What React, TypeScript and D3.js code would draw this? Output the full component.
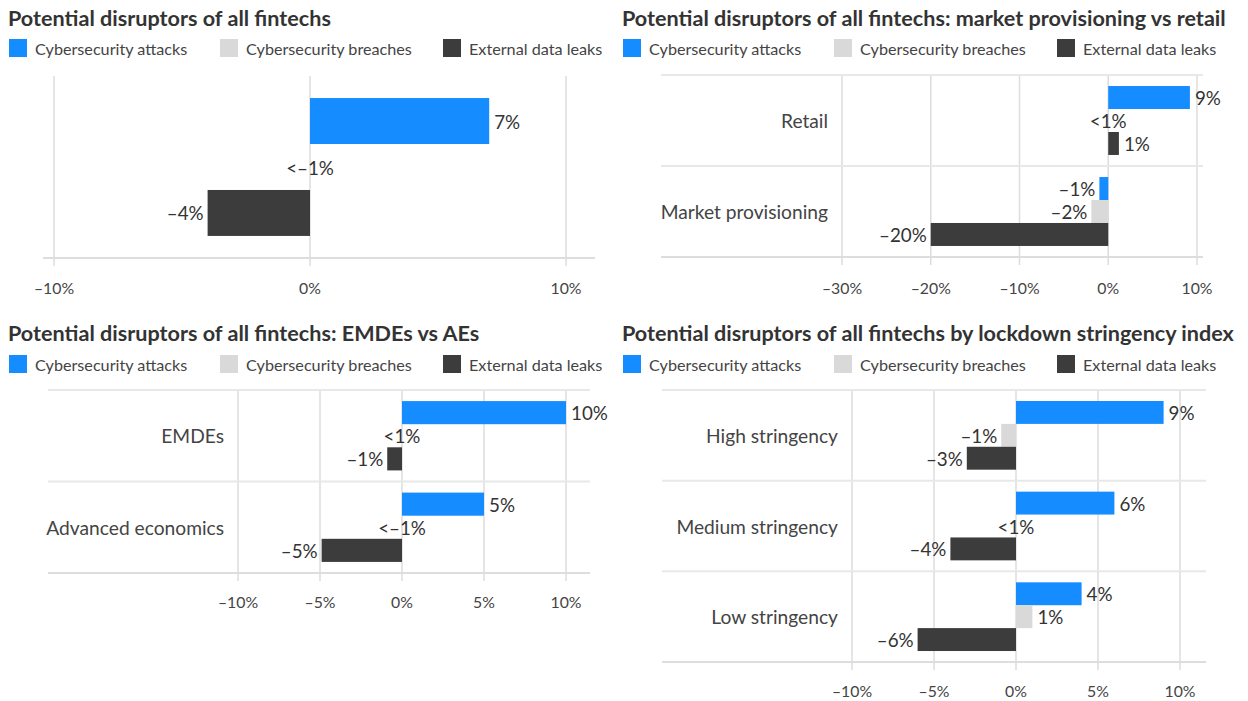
import React from "react";
import * as d3 from "d3";

// ---------- data ----------
const seriesNames = ["Cybersecurity attacks", "Cybersecurity breaches", "External data leaks"];
const seriesColors = ["#158cff", "#d9d9d9", "#3c3c3c"];

// Panel 1: all fintechs
const title1 = "Potential disruptors of all fintechs";
const categories1 = [""];
const attacks1 = [7];
const breaches1 = [0];
const leaks1 = [-4];
const attacksLabels1 = ["7%"];
const breachesLabels1 = ["<–1%"];
const leaksLabels1 = ["–4%"];
const ticks1 = [-10, 0, 10];

// Panel 2: market provisioning vs retail
const title2 = "Potential disruptors of all fintechs: market provisioning vs retail";
const categories2 = ["Retail", "Market provisioning"];
const attacks2 = [9.2, -1];
const breaches2 = [0, -1.9];
const leaks2 = [1.2, -20];
const attacksLabels2 = ["9%", "–1%"];
const breachesLabels2 = ["<1%", "–2%"];
const leaksLabels2 = ["1%", "–20%"];
const ticks2 = [-30, -20, -10, 0, 10];

// Panel 3: EMDEs vs AEs
const title3 = "Potential disruptors of all fintechs: EMDEs vs AEs";
const categories3 = ["EMDEs", "Advanced economics"];
const attacks3 = [10, 5];
const breaches3 = [0, 0];
const leaks3 = [-0.9, -4.9];
const attacksLabels3 = ["10%", "5%"];
const breachesLabels3 = ["<1%", "<–1%"];
const leaksLabels3 = ["–1%", "–5%"];
const ticks3 = [-10, -5, 0, 5, 10];

// Panel 4: lockdown stringency
const title4 = "Potential disruptors of all fintechs by lockdown stringency index";
const categories4 = ["High stringency", "Medium stringency", "Low stringency"];
const attacks4 = [9, 6, 4];
const breaches4 = [-0.9, 0, 1];
const leaks4 = [-3, -4, -6];
const attacksLabels4 = ["9%", "6%", "4%"];
const breachesLabels4 = ["–1%", "<1%", "1%"];
const leaksLabels4 = ["–3%", "–4%", "–6%"];
const ticks4 = [-10, -5, 0, 5, 10];

const tickFormat = (v: number) => (v < 0 ? "–" + Math.abs(v) : String(v)) + "%";

// ---------- layout ----------
const FONT = "Lato, 'Noto Sans', sans-serif";
const TEXT = "#333";
const GRID = "#dcdcdc";
const LEGEND_OFFSETS = [0, 211, 434];

type Panel = {
  title: string;
  categories: string[];
  values: number[][];
  labels: string[][];
  ticks: number[];
  domain: [number, number];
  x: number;
  titleY: number;
  legendY: number;
  top: number;
  bottom: number;
  lineX0: number;
  lineX1: number;
  xRange: [number, number];
  tickY: number;
  catX: number | null;
  topLine: boolean;
};

const panels: Panel[] = [
  {
    title: title1, categories: categories1,
    values: [attacks1, breaches1, leaks1], labels: [attacksLabels1, breachesLabels1, leaksLabels1],
    ticks: ticks1, domain: [-10, 10],
    x: 9, titleY: 26, legendY: 48,
    top: 76, bottom: 258, lineX0: 43, lineX1: 595, xRange: [54, 566], tickY: 287, catX: null, topLine: false,
  },
  {
    title: title2, categories: categories2,
    values: [attacks2, breaches2, leaks2], labels: [attacksLabels2, breachesLabels2, leaksLabels2],
    ticks: ticks2, domain: [-30, 10],
    x: 623, titleY: 26, legendY: 48,
    top: 75, bottom: 257, lineX0: 661, lineX1: 1203, xRange: [842, 1197], tickY: 287, catX: 828, topLine: true,
  },
  {
    title: title3, categories: categories3,
    values: [attacks3, breaches3, leaks3], labels: [attacksLabels3, breachesLabels3, leaksLabels3],
    ticks: ticks3, domain: [-10, 10],
    x: 9, titleY: 341, legendY: 364,
    top: 390, bottom: 573, lineX0: 48, lineX1: 590, xRange: [238, 566], tickY: 601, catX: 224, topLine: true,
  },
  {
    title: title4, categories: categories4,
    values: [attacks4, breaches4, leaks4], labels: [attacksLabels4, breachesLabels4, leaksLabels4],
    ticks: ticks4, domain: [-10, 10],
    x: 623, titleY: 341, legendY: 364,
    top: 390, bottom: 662, lineX0: 662, lineX1: 1206, xRange: [852, 1180], tickY: 690, catX: 838, topLine: true,
  },
];

function PanelView({ p }: { p: Panel }) {
  const x = d3.scaleLinear().domain(p.domain).range(p.xRange);
  const y = d3.scaleBand<string>().domain(p.categories.map((c, i) => i + "")).range([p.top, p.bottom]).padding(0);
  const sub = d3
    .scaleBand<string>()
    .domain(seriesNames)
    .range([0, y.bandwidth()])
    .paddingInner(0)
    .paddingOuter(0.48);

  return (
    <g>
      <text x={p.x - 1} y={p.titleY} fontFamily={FONT} fontWeight={700} fontSize={21.6} fill={TEXT}>
        {p.title}
      </text>
      {seriesNames.map((s, i) => (
        <g key={s}>
          <rect x={p.x + LEGEND_OFFSETS[i]} y={p.legendY - 9} width={18} height={18} fill={seriesColors[i]} />
          <text
            x={p.x + LEGEND_OFFSETS[i] + 26}
            y={p.legendY}
            dominantBaseline="central"
            fontFamily={FONT}
            fontSize={16.2}
            fill="#444"
          >
            {s}
          </text>
        </g>
      ))}
      {/* gridlines */}
      {p.ticks.map((t) => (
        <line key={"g" + t} x1={x(t)} x2={x(t)} y1={p.top} y2={p.bottom + 8} stroke={GRID} strokeWidth={1.5} />
      ))}
      {/* category separators */}
      {p.categories.map((c, i) => {
        const yy = y(i + "")!;
        if (i === 0 && !p.topLine) return null;
        return <line key={"s" + i} x1={p.lineX0} x2={p.lineX1} y1={yy} y2={yy} stroke="#e8e8e8" strokeWidth={2} />;
      })}
      <line x1={p.lineX0} x2={p.lineX1} y1={p.bottom} y2={p.bottom} stroke="#dddddd" strokeWidth={2} />
      {/* tick labels */}
      {p.ticks.map((t) => (
        <text
          key={"t" + t}
          x={x(t)}
          y={p.tickY}
          textAnchor="middle"
          dominantBaseline="central"
          fontFamily={FONT}
          fontSize={15.8}
          fill="#444"
        >
          {tickFormat(t)}
        </text>
      ))}
      {/* category labels */}
      {p.catX !== null &&
        p.categories.map((c, i) => (
          <text
            key={"c" + i}
            x={p.catX!}
            y={y(i + "")! + y.bandwidth() / 2}
            textAnchor="end"
            dominantBaseline="central"
            fontFamily={FONT}
            fontSize={19.2}
            fill="#444"
          >
            {c}
          </text>
        ))}
      {/* bars */}
      {p.categories.map((c, ci) =>
        seriesNames.map((s, si) => {
          const v = p.values[si][ci];
          const by = y(ci + "")! + sub(s)!;
          const bh = sub.bandwidth();
          const x0 = x(Math.min(0, v));
          const x1 = x(Math.max(0, v));
          const label = p.labels[si][ci];
          let lx = x(0);
          let anchor: "start" | "end" | "middle" = "middle";
          if (v > 0) {
            lx = x1 + 5;
            anchor = "start";
          } else if (v < 0) {
            lx = x0 - 4;
            anchor = "end";
          }
          return (
            <g key={ci + "-" + si}>
              {v !== 0 && <rect x={x0} y={by} width={x1 - x0} height={bh} fill={seriesColors[si]} />}
              <text
                x={lx}
                y={by + bh / 2}
                textAnchor={anchor}
                dominantBaseline="central"
                fontFamily={FONT}
                fontSize={18.8}
                fill={TEXT}
              >
                {label}
              </text>
            </g>
          );
        })
      )}
    </g>
  );
}

export default function App() {
  return (
    <svg
      width={1248}
      height={701}
      style={{ position: "absolute", left: 0, top: 0, background: "#fff" }}
    >
      <rect width={1248} height={701} fill="#fff" />
      {panels.map((p, i) => (
        <PanelView key={i} p={p} />
      ))}
    </svg>
  );
}
